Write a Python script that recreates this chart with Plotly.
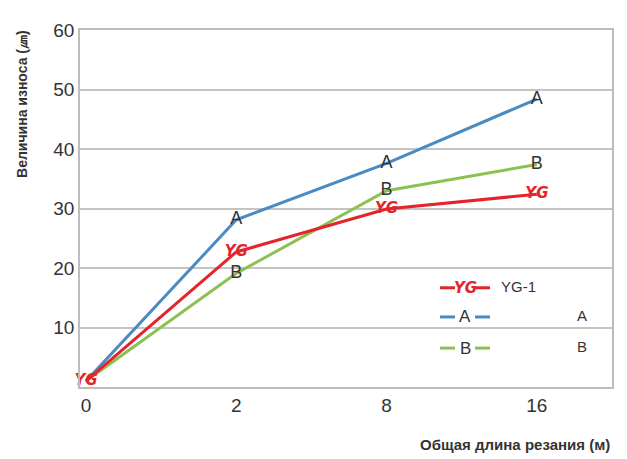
import plotly.graph_objects as go

categories = ["0", "2", "8", "16"]
yg1 = [1, 22.7, 29.9, 32.4]
series_a = [1, 28.1, 37.6, 48.4]
series_b = [1, 19.1, 33.0, 37.4]
y_ticks = [10, 20, 30, 40, 50, 60]

RED = "#e3252b"
BLUE = "#4a8bc2"
GREEN = "#8cc152"
TXT = "#333333"
FONT = "Liberation Sans, Arial, sans-serif"

xpos = list(range(len(categories)))
logo = "<b><i>YG</i></b>"

fig = go.Figure()
fig.add_trace(go.Scatter(x=xpos, y=series_b, mode="lines+text", text=["", "B", "B", "B"],
                         textposition="middle center", line=dict(color=GREEN, width=3),
                         textfont=dict(size=18, color=TXT, family=FONT), showlegend=False, cliponaxis=False))
fig.add_trace(go.Scatter(x=xpos, y=series_a, mode="lines+text", text=["", "A", "A", "A"],
                         textposition="middle center", line=dict(color=BLUE, width=3),
                         textfont=dict(size=18, color=TXT, family=FONT), showlegend=False, cliponaxis=False))
fig.add_trace(go.Scatter(x=xpos, y=yg1, mode="lines+text", text=[logo] * 4,
                         textposition="middle center", line=dict(color=RED, width=3),
                         textfont=dict(size=15, color=RED, family="DejaVu Sans"), showlegend=False, cliponaxis=False))

# manual legend (pixel helpers relative to the plot area)
def px(x):
    return (x - 80) / 532

def py(y):
    return (387 - y) / 367

shapes = []
annotations = []
legend_rows = [(285, RED, logo, "YG-1", None, 15, RED, "DejaVu Sans"),
               (315, BLUE, "A", None, "A", 17, TXT, FONT),
               (347, GREEN, "B", None, "B", 17, TXT, FONT)]
for yy, col, mid, lab, rlab, fs, fc, ff in legend_rows:
    for x0, x1 in [(440, 455), (475, 490)]:
        shapes.append(dict(type="line", xref="paper", yref="paper", x0=px(x0), x1=px(x1),
                           y0=py(yy), y1=py(yy), line=dict(color=col, width=3)))
    annotations.append(dict(x=px(465), y=py(yy), xref="paper", yref="paper", text=mid,
                            xanchor="center", yanchor="middle",
                            showarrow=False, font=dict(size=fs, color=fc, family=ff)))
    if lab:
        annotations.append(dict(x=px(499), y=py(yy - 1), xref="paper", yref="paper", text=lab,
                                xanchor="left", yanchor="middle", showarrow=False,
                                font=dict(size=15, color=TXT, family=FONT)))
    if rlab:
        annotations.append(dict(x=px(582), y=py(yy - 2), xref="paper", yref="paper", text=rlab,
                                xanchor="center", yanchor="middle", showarrow=False,
                                font=dict(size=15, color=TXT, family=FONT)))

annotations.append(dict(x=px(22), y=py(96), xref="paper", yref="paper", text="<b>Величина износа (㎛)</b>",
                        xanchor="center", yanchor="middle",
                        textangle=-90, showarrow=False, font=dict(size=14, color=TXT, family=FONT)))
annotations.append(dict(x=1, y=py(446), xref="paper", yref="paper", text="<b>Общая длина резания (м)</b>",
                        xanchor="right", yanchor="middle", showarrow=False,
                        font=dict(size=15, color=TXT, family=FONT)))

fig.update_layout(
    width=619, height=451,
    margin=dict(l=72, r=15, t=12, b=72),
    paper_bgcolor="white", plot_bgcolor="white",
    shapes=shapes, annotations=annotations,
    xaxis=dict(range=[-0.04, 3.5], tickvals=xpos, ticktext=categories, showgrid=False,
               showline=True, mirror=True, linecolor="#bdbdbd", linewidth=1.5, zeroline=False,
               tickfont=dict(size=19, color=TXT, family=FONT), ticks="", ticklen=0),
    yaxis=dict(range=[0, 60], tickvals=y_ticks, showgrid=True, gridcolor="#c4c4c4", gridwidth=1.5,
               showline=True, mirror=True, linecolor="#bdbdbd", linewidth=1.5, zeroline=False,
               tickfont=dict(size=19, color=TXT, family=FONT), ticks="", ticklen=0),
)
fig.write_html("out.html")
